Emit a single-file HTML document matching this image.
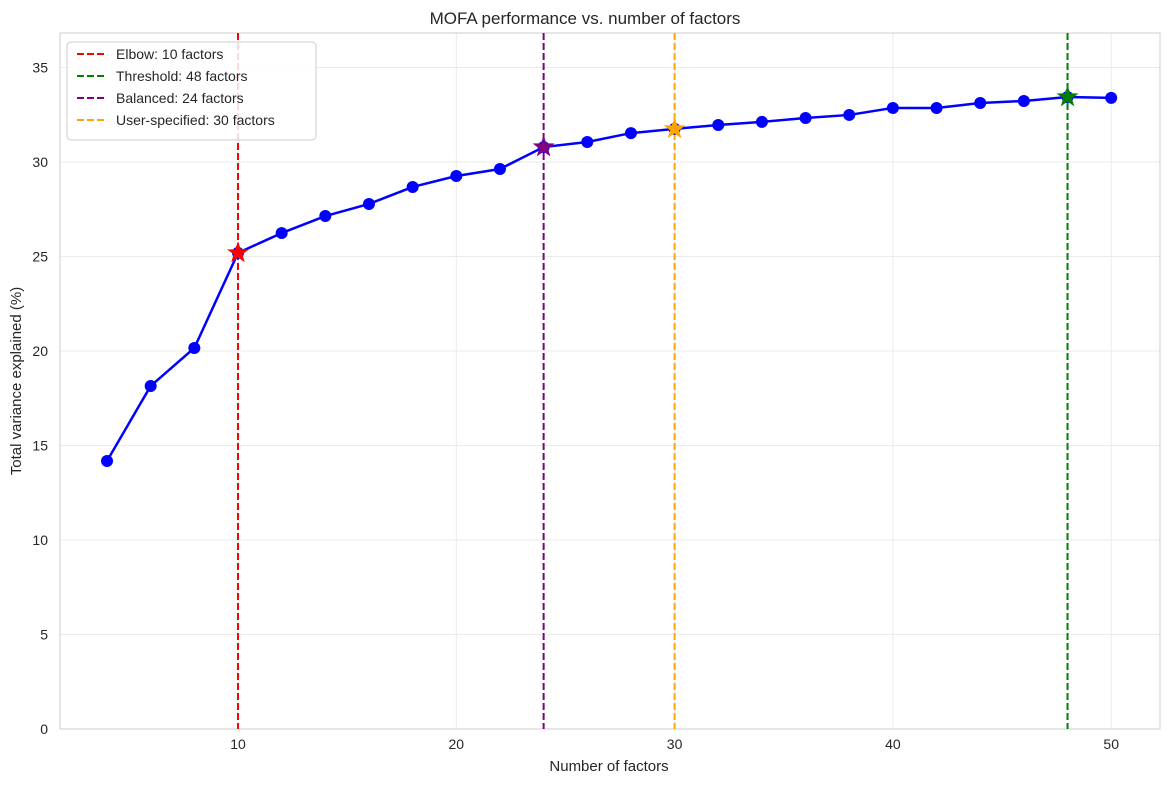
<!DOCTYPE html>
<html><head><meta charset="utf-8"><style>
body{margin:0;background:#fff;font-family:"Liberation Sans",sans-serif;}
svg text{font-family:"Liberation Sans",sans-serif;fill:#262626;}
</style></head><body>
<svg id="chart" width="1170" height="784" xmlns="http://www.w3.org/2000/svg">
<rect width="1170" height="784" fill="#fff"/>
<g id="grid"></g>
<rect x="60" y="33" width="1100" height="696" fill="none" stroke="#ccc" stroke-width="1"/>
<g id="vlines"></g>
<g id="series"></g>
<g id="ticks"></g>
<text x="585" y="24" text-anchor="middle" font-size="17">MOFA performance vs. number of factors</text>
<text x="609" y="771" text-anchor="middle" font-size="15">Number of factors</text>
<text transform="translate(21,381) rotate(-90)" text-anchor="middle" font-size="15">Total variance explained (%)</text>
<g id="legend"></g>
</svg>
<script>
const factors=[4,6,8,10,12,14,16,18,20,22,24,26,28,30,32,34,36,38,40,42,44,46,48,50];
const variance=[14.18,18.15,20.16,25.19,26.24,27.14,27.78,28.68,29.26,29.63,30.79,31.06,31.53,31.75,31.96,32.12,32.33,32.49,32.86,32.86,33.12,33.23,33.44,33.39];
const markerLabels=["Elbow: 10 factors","Threshold: 48 factors","Balanced: 24 factors","User-specified: 30 factors"];
const markerFactors=[10,48,24,30];
const markerColors=["red","green","purple","orange"];
const xTicks=[10,20,30,40,50];
const yTicks=[0,5,10,15,20,25,30,35];
const NS="http://www.w3.org/2000/svg";
const X=v=>238+(v-10)*21.83;
const Y=v=>729-v*18.9;
function mk(t,a,p){const e=document.createElementNS(NS,t);for(const k in a)e.setAttribute(k,a[k]);p.appendChild(e);return e;}
const grid=document.getElementById('grid'),ticks=document.getElementById('ticks');
xTicks.forEach(t=>{
 const l=mk('line',{x1:X(t),x2:X(t),y1:33,y2:729,stroke:'#ebebeb'},grid);
 
 
 const tx=mk('text',{x:X(t),y:749,'text-anchor':'middle','font-size':14},ticks);tx.textContent=t;
 
 
});
yTicks.forEach(t=>{
 const l=mk('line',{x1:60,x2:1160,y1:Y(t),y2:Y(t),stroke:'#ebebeb'},grid);
 
 
 const tx=mk('text',{x:48,y:Y(t)+5,'text-anchor':'end','font-size':14},ticks);tx.textContent=t;
 
 
});
const vl=document.getElementById('vlines');
markerFactors.forEach((f,i)=>{
 const l=mk('line',{x1:X(f),x2:X(f),y1:33,y2:729,stroke:markerColors[i],'stroke-width':2,'stroke-dasharray':'7,3'},vl);
 
 
});
const s=document.getElementById('series');
const pl=mk('polyline',{points:factors.map((f,i)=>X(f)+','+Y(variance[i])).join(' '),fill:'none',stroke:'blue','stroke-width':2.5},s);


factors.forEach((f,i)=>{
 const c=mk('circle',{cx:X(f),cy:Y(variance[i]),r:6,fill:'blue'},s);
 
 
});
function star(cx,cy,R){let p=[];for(let k=0;k<10;k++){const r=k%2?R*0.4:R;const a=-Math.PI/2+k*Math.PI/5;p.push((cx+r*Math.cos(a)).toFixed(1)+','+(cy+r*Math.sin(a)).toFixed(1));}return p.join(' ');}
markerFactors.forEach((f,i)=>{
 const idx=factors.indexOf(f);
 const st=mk('polygon',{points:star(X(f),Y(variance[idx]),10),fill:markerColors[i],stroke:markerColors[i]},s);
 
 
});
const lg=document.getElementById('legend');
const box=mk('rect',{x:67,y:42,width:249,height:98,rx:4,fill:'#fff','fill-opacity':0.85,stroke:'#ccc'},lg);


markerLabels.forEach((t,i)=>{
 const y=54+i*22;
 const l=mk('line',{x1:77,x2:105,y1:y,y2:y,stroke:markerColors[i],'stroke-width':2,'stroke-dasharray':'7,3'},lg);
 
 
 const tx=mk('text',{x:116,y:y+5,'font-size':14},lg);tx.textContent=t;
 
 
});
</script>
</body></html>
